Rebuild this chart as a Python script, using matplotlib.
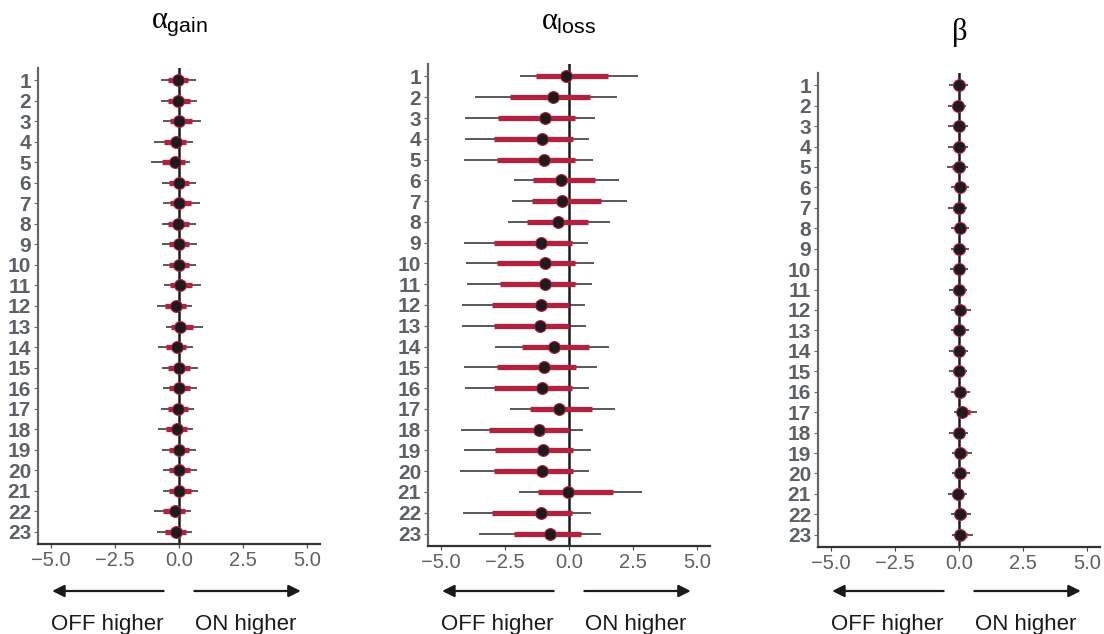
import numpy as np
import matplotlib
matplotlib.use("Agg")
import matplotlib.pyplot as plt
from matplotlib.transforms import blended_transform_factory

plt.rcParams['font.family'] = ['Liberation Sans', 'DejaVu Sans']
plt.rcParams['mathtext.fontset'] = 'custom'
plt.rcParams['mathtext.rm'] = 'Liberation Sans'
plt.rcParams['mathtext.it'] = 'Liberation Serif'

# subjects (rows, top to bottom)
subjects = [str(i) for i in range(1, 24)]

# alpha gain: median, 50% and 95% intervals
gain_med = [-0.03, -0.03, 0.01, -0.12, -0.17, -0.01, 0.01, -0.03, -0.01, -0.01, 0.03, -0.12,
            0.05, -0.08, -0.01, 0.0, -0.05, -0.06, -0.01, 0.0, 0.01, -0.14, -0.12]
gain_lo50 = [-0.43, -0.42, -0.36, -0.60, -0.68, -0.39, -0.36, -0.42, -0.39, -0.38, -0.34, -0.55,
             -0.30, -0.49, -0.42, -0.38, -0.44, -0.49, -0.40, -0.38, -0.38, -0.61, -0.55]
gain_hi50 = [0.35, 0.42, 0.51, 0.27, 0.22, 0.39, 0.48, 0.39, 0.40, 0.39, 0.51, 0.26,
             0.55, 0.29, 0.42, 0.43, 0.34, 0.31, 0.40, 0.42, 0.45, 0.25, 0.26]
gain_lo95 = [-0.71, -0.69, -0.64, -0.97, -1.08, -0.65, -0.64, -0.68, -0.65, -0.64, -0.58, -0.87,
             -0.52, -0.83, -0.68, -0.64, -0.71, -0.81, -0.65, -0.62, -0.62, -0.97, -0.87]
gain_hi95 = [0.66, 0.71, 0.86, 0.55, 0.43, 0.66, 0.82, 0.66, 0.69, 0.66, 0.84, 0.51,
             0.92, 0.55, 0.74, 0.70, 0.58, 0.55, 0.66, 0.69, 0.75, 0.47, 0.52]

# alpha loss
loss_med = [-0.10, -0.62, -0.95, -1.04, -0.97, -0.32, -0.26, -0.44, -1.08, -0.92, -0.92, -1.09,
            -1.12, -0.58, -0.96, -1.05, -0.40, -1.18, -1.03, -1.04, -0.03, -1.09, -0.74]
loss_lo50 = [-1.27, -2.29, -2.77, -2.92, -2.82, -1.42, -1.45, -1.63, -2.92, -2.81, -2.71, -3.01,
             -2.94, -1.83, -2.81, -2.91, -1.53, -3.14, -2.88, -2.94, -1.21, -3.00, -2.15]
loss_hi50 = [1.54, 0.82, 0.22, 0.17, 0.22, 1.01, 1.26, 0.76, 0.13, 0.24, 0.22, -0.01,
             -0.01, 0.77, 0.26, 0.12, 0.91, -0.01, 0.14, 0.14, 1.73, 0.10, 0.45]
loss_lo95 = [-1.92, -3.68, -4.04, -4.05, -4.08, -2.13, -2.22, -2.38, -4.08, -4.00, -3.99, -4.19,
             -4.19, -2.88, -4.08, -4.04, -2.29, -4.23, -4.09, -4.27, -1.94, -4.12, -3.51]
loss_hi95 = [2.69, 1.88, 1.00, 0.79, 0.94, 1.94, 2.27, 1.59, 0.74, 0.96, 0.90, 0.64,
             0.67, 1.56, 1.08, 0.77, 1.79, 0.54, 0.87, 0.79, 2.86, 0.85, 1.24]

# beta
beta_med = [0.0, -0.03, 0.0, 0.0, -0.01, 0.03, -0.01, 0.03, 0.01, 0.01, -0.01, 0.03,
            0.01, 0.0, -0.01, 0.03, 0.10, 0.0, 0.05, 0.03, -0.03, 0.03, 0.05]
beta_lo50 = [-0.22, -0.26, -0.23, -0.24, -0.27, -0.17, -0.25, -0.17, -0.19, -0.20, -0.24, -0.16,
             -0.18, -0.21, -0.24, -0.17, -0.06, -0.21, -0.12, -0.16, -0.27, -0.16, -0.12]
beta_hi50 = [0.20, 0.17, 0.20, 0.20, 0.19, 0.24, 0.18, 0.24, 0.22, 0.21, 0.18, 0.26,
             0.22, 0.20, 0.17, 0.25, 0.42, 0.20, 0.30, 0.25, 0.16, 0.27, 0.32]
beta_lo95 = [-0.39, -0.44, -0.42, -0.42, -0.47, -0.31, -0.43, -0.31, -0.32, -0.35, -0.40, -0.30,
             -0.32, -0.38, -0.40, -0.31, -0.19, -0.38, -0.26, -0.29, -0.44, -0.30, -0.26]
beta_hi95 = [0.34, 0.29, 0.34, 0.34, 0.34, 0.39, 0.32, 0.39, 0.38, 0.35, 0.32, 0.45,
             0.38, 0.35, 0.31, 0.43, 0.70, 0.36, 0.51, 0.43, 0.30, 0.48, 0.56]

titles = [r'$\alpha_{\mathrm{gain}}$', r'$\alpha_{\mathrm{loss}}$', r'$\beta$']
xticks = [-5.0, -2.5, 0.0, 2.5, 5.0]
xtick_labels = ['\u22125.0', '\u22122.5', '0.0', '2.5', '5.0']

RED = '#b3213f'
GREY = '#5b6166'

panels = [
    (gain_med, gain_lo50, gain_hi50, gain_lo95, gain_hi95),
    (loss_med, loss_lo50, loss_hi50, loss_lo95, loss_hi95),
    (beta_med, beta_lo50, beta_hi50, beta_lo95, beta_hi95),
]

# axes rectangles in pixels: left, top, right, bottom
boxes = [(38, 68, 320, 544), (428, 64, 710, 546), (818, 73, 1100, 547)]
title_base = [28, 30, 40]
W, H = 1104, 634

fig = plt.figure(figsize=(W / 100, H / 100), dpi=100)

for k, (med, lo50, hi50, lo95, hi95) in enumerate(panels):
    l, t, r, b = boxes[k]
    ax = fig.add_axes([l / W, (H - b) / H, (r - l) / W, (b - t) / H])
    y = np.arange(1, len(subjects) + 1)

    ax.axvline(0, color='#1a1a1a', lw=1.8, zorder=1)
    ax.hlines(y, lo95, hi95, color='#2b2b2b', lw=1.1, zorder=2)
    ax.hlines(y, lo50, hi50, color=RED, lw=3.8, zorder=3)
    ax.plot(med, y, 'o', ms=8.5, mfc='#1c1c1c', mec=RED, mew=0.8, zorder=4, ls='none')

    ax.set_xlim(-5.5, 5.5)
    ax.set_ylim(23.6, 0.4)
    ax.set_yticks(y)
    ax.set_yticklabels(subjects, fontsize=15, fontweight='bold', color=GREY)
    ax.set_xticks(xticks)
    ax.set_xticklabels(xtick_labels, fontsize=14.5, color=GREY)
    ax.tick_params(axis='y', length=3, width=0.8, color='#666666', pad=2)
    ax.tick_params(axis='x', length=3, width=0.8, color='#444444', pad=2)

    for side in ['top', 'right']:
        ax.spines[side].set_visible(False)
    ax.spines['left'].set_color('#666666')
    ax.spines['left'].set_linewidth(1.6)
    ax.spines['bottom'].set_color('#333333')
    ax.spines['bottom'].set_linewidth(1.6)

    # title placed at a fixed pixel baseline
    tf = blended_transform_factory(ax.transAxes, fig.transFigure)
    ax.text(0.5, 1 - title_base[k] / H, titles[k], transform=tf, ha='center', va='baseline',
            fontsize=22, clip_on=False)

    # direction arrows and labels below the x axis (fixed pixel heights)
    tr = blended_transform_factory(ax.transData, fig.transFigure)
    ya = 1 - 591 / H
    yt = 1 - 630 / H
    ax.annotate('', xy=(-4.95, ya), xytext=(-0.6, ya), xycoords=tr, textcoords=tr,
                arrowprops=dict(arrowstyle='-|>', lw=1.6, color='#1a1a1a', mutation_scale=18,
                                shrinkA=0, shrinkB=0))
    ax.annotate('', xy=(4.75, ya), xytext=(0.6, ya), xycoords=tr, textcoords=tr,
                arrowprops=dict(arrowstyle='-|>', lw=1.6, color='#1a1a1a', mutation_scale=18,
                                shrinkA=0, shrinkB=0))
    ax.text(-2.8, yt, 'OFF higher', transform=tr, ha='center', va='baseline',
            fontsize=16, color='#1a1a1a', clip_on=False)
    ax.text(2.6, yt, 'ON higher', transform=tr, ha='center', va='baseline',
            fontsize=16, color='#1a1a1a', clip_on=False)

fig.savefig('out.png', dpi=100)
